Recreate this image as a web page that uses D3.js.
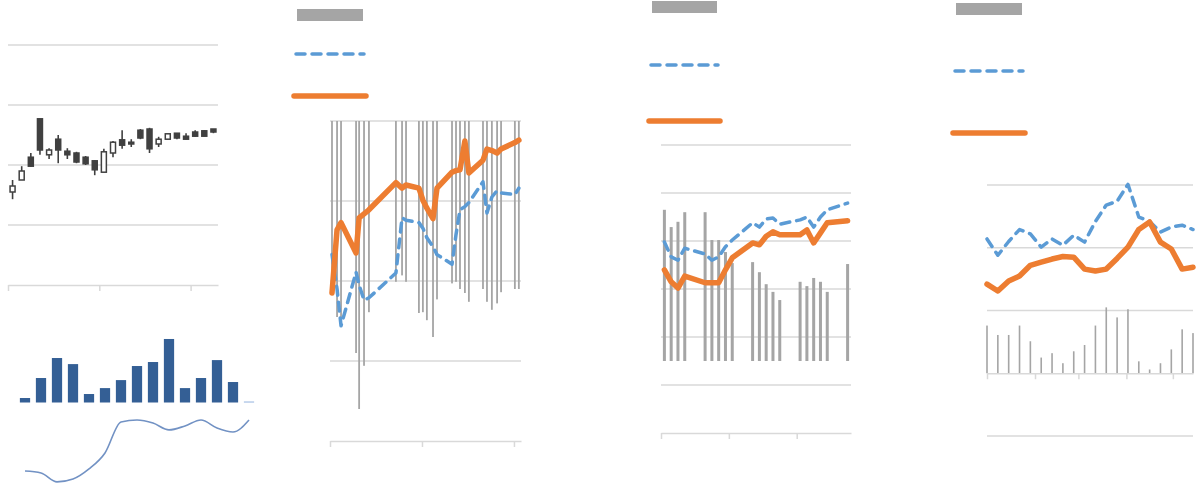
<!DOCTYPE html>
<html><head><meta charset="utf-8">
<script src="https://cdn.jsdelivr.net/npm/d3@7"></script>
<style>html,body{margin:0;padding:0;background:#fff;}svg{display:block;}</style>
</head><body>
<svg id="c" width="1199" height="486"></svg>
<script>
// ---------- Panel A (candlesticks) ----------
const candleOpen  = [1.55,1.75,2.13,2.77,2.17,2.43,2.23,2.20,2.13,2.07,1.88,2.20,2.42,2.38,2.58,2.60,2.35,2.43,2.53,2.48,2.55,2.57,2.60];
const candleClose = [1.65,1.90,1.98,2.25,2.25,2.25,2.17,2.05,2.02,1.92,2.22,2.38,2.33,2.35,2.45,2.27,2.43,2.52,2.45,2.43,2.48,2.48,2.55];
const candleHigh  = [1.75,1.98,2.20,2.77,2.28,2.50,2.28,2.22,2.15,2.08,2.27,2.40,2.58,2.43,2.60,2.62,2.47,2.52,2.53,2.53,2.58,2.58,2.60];
const candleLow   = [1.43,1.75,1.97,2.17,2.10,2.03,2.10,2.03,2.00,1.83,1.88,2.13,2.27,2.30,2.43,2.20,2.30,2.43,2.43,2.43,2.47,2.48,2.53];
const candleTicks = [0,10,20];
const candleGrid  = [1,2,3,4];

// ---------- Panel A (bottom bars + line) ----------
const volumeBars = [0.28,1.53,2.78,2.40,0.53,0.90,1.40,2.28,2.53,3.97,0.90,1.53,2.65,1.28,0.06];
const volumeLine = [0.81,0.69,0.13,0.31,0.94,1.94,3.88,4.00,3.81,3.38,3.63,4.00,3.50,3.25,4.00];

// ---------- Panel B ----------
const bDays   = [0.65,2.3,3.6,8.5,9.5,11.1,12.7,21.5,23.5,24.8,29.0,30.3,31.6,33.6,34.9,39.8,41.1,42.4,44.0,45.3,49.9,51.2,52.8,54.5,55.8,60.3,61.6];
const bOrange = [1.85,2.64,2.73,2.35,2.79,2.84,2.89,3.23,3.16,3.20,3.16,3.01,2.91,2.78,3.16,3.36,3.38,3.39,3.75,3.35,3.51,3.65,3.63,3.60,3.65,3.73,3.76];
const bBlue   = [2.33,1.90,1.44,2.11,1.95,1.76,1.79,2.10,2.79,2.76,2.73,2.66,2.54,2.43,2.33,2.21,2.58,2.89,2.93,2.98,3.24,2.85,3.05,3.13,3.10,3.08,3.16];
const bBars   = [2.11,2.45,2.49,2.90,3.60,3.06,2.39,2.01,1.93,2.01,2.40,2.39,2.49,2.70,2.23,2.03,2.01,2.10,2.15,2.26,2.10,2.26,2.36,2.28,2.14,2.10,2.10];
const bTicks  = [0,30,60];
const bGrid   = [1,2,3,4];

// ---------- Panel C ----------
const cDays   = [0.5,1.5,2.5,3.5,6.5,7.5,8.5,9.5,10.5,13.5,14.5,15.5,16.5,17.5,20.5,21.5,22.5,23.5,24.5,27.5];
const cOrange = [3.40,3.15,3.02,3.27,3.13,3.13,3.13,3.40,3.65,3.96,3.92,4.10,4.19,4.13,4.13,4.23,3.96,4.17,4.38,4.42];
const cBlue   = [3.98,3.67,3.60,3.85,3.73,3.60,3.67,3.88,4.02,4.38,4.29,4.46,4.48,4.35,4.44,4.50,4.29,4.50,4.65,4.79];
const cBars   = [3.15,2.79,2.90,3.10,3.10,2.52,2.52,2.27,2.04,2.06,1.85,1.60,1.44,1.27,1.65,1.56,1.73,1.65,1.44,2.02];
const cTicks  = [0,10,20];
const cGrid   = [1,2,3,4,5,6];

// ---------- Panel D ----------
const dDates  = ["2023-01-01","2023-01-08","2023-01-15","2023-01-22","2023-01-29","2023-02-05","2023-02-12","2023-02-19","2023-02-26","2023-03-05","2023-03-12","2023-03-19","2023-03-26","2023-04-02","2023-04-09","2023-04-16","2023-04-23","2023-04-30","2023-05-07","2023-05-14"];
const dOrange = [1.42,1.31,1.47,1.55,1.72,1.77,1.82,1.86,1.85,1.66,1.63,1.66,1.83,2.01,2.29,2.41,2.09,1.98,1.66,1.69];
const dBlue   = [2.14,1.88,2.10,2.29,2.22,2.01,2.14,2.04,2.20,2.09,2.42,2.68,2.74,3.01,2.49,2.42,2.25,2.33,2.36,2.29];
const dBars   = [0.76,0.61,0.61,0.76,0.51,0.25,0.32,0.16,0.35,0.45,0.76,1.05,0.89,1.02,0.19,0.06,0.16,0.38,0.70,0.64];
const dGrid   = [-1,1,2,3];

const GRID = "#d9d9d9", GRAY = "#a5a5a5", ORANGE = "#ed7d31", BLUE = "#5b9bd5", DARK = "#404040";
const svg = d3.select("#c");

function gridlines(g, y, vals, x0, x1) {
  g.selectAll(null).data(vals).join("line")
    .attr("x1", x0).attr("x2", x1).attr("y1", d => y(d)).attr("y2", d => y(d))
    .attr("stroke", GRID).attr("stroke-width", 1.5);
}
function xAxis(g, x, ticks, yPos) {
  const a = g.append("g").attr("transform", `translate(0,${yPos})`)
    .call(d3.axisBottom(x).tickValues(ticks).tickSize(6).tickSizeOuter(0).tickFormat(""));
  a.select(".domain").attr("stroke", GRID).attr("stroke-width", 1.5);
  a.selectAll(".tick line").attr("stroke", GRID).attr("stroke-width", 1.5);
}
function legend(g, x0, x1, yRect, yDash, yLine) {
  g.append("rect").attr("x", x0 + 3).attr("y", yRect).attr("width", x1 - x0 - 6).attr("height", 12).attr("fill", GRAY);
  g.append("line").attr("x1", x0 + 2).attr("x2", x1 - 2).attr("y1", yDash).attr("y2", yDash)
    .attr("stroke", BLUE).attr("stroke-width", 3.5).attr("stroke-dasharray", "9,7").attr("stroke-linecap", "round");
  g.append("line").attr("x1", x0).attr("x2", x1).attr("y1", yLine).attr("y2", yLine)
    .attr("stroke", ORANGE).attr("stroke-width", 5.5).attr("stroke-linecap", "round");
}
function drawLines(g, x, y, xs, blue, orange) {
  const line = d3.line().x((d, i) => x(xs[i])).y(d => y(d));
  g.append("path").attr("d", line(blue)).attr("fill", "none").attr("stroke", BLUE)
    .attr("stroke-width", 3.5).attr("stroke-dasharray", "9,7").attr("stroke-linecap", "round").attr("stroke-linejoin", "round");
  g.append("path").attr("d", line(orange)).attr("fill", "none").attr("stroke", ORANGE)
    .attr("stroke-width", 5.5).attr("stroke-linecap", "round").attr("stroke-linejoin", "round");
}

// ===== Panel A top =====
{
  const g = svg.append("g");
  const x = d3.scaleLinear().domain([0, 23]).range([8, 218]);
  const y = d3.scaleLinear().domain([0, 4]).range([285, 45]);
  gridlines(g, y, candleGrid, 8, 218);
  xAxis(g, x, candleTicks, 285);
  const idx = d3.range(candleOpen.length);
  const bw = 5;
  g.selectAll(null).data(idx).join("line")
    .attr("x1", i => x(i + 0.5)).attr("x2", i => x(i + 0.5))
    .attr("y1", i => y(candleHigh[i])).attr("y2", i => y(candleLow[i]))
    .attr("stroke", DARK).attr("stroke-width", 1.6);
  g.selectAll(null).data(idx).join("rect")
    .attr("x", i => x(i + 0.5) - bw / 2)
    .attr("y", i => y(Math.max(candleOpen[i], candleClose[i])))
    .attr("width", bw)
    .attr("height", i => Math.max(1.5, Math.abs(y(candleOpen[i]) - y(candleClose[i]))))
    .attr("fill", i => candleClose[i] > candleOpen[i] ? "#fff" : DARK)
    .attr("stroke", DARK).attr("stroke-width", 1.5);
}
// ===== Panel A bottom =====
{
  const g = svg.append("g");
  const x = d3.scaleBand().domain(d3.range(volumeBars.length)).range([17, 257]).paddingInner(0.36).paddingOuter(0.18);
  const yb = d3.scaleLinear().domain([0, 4]).range([402.5, 338.5]);
  const yl = d3.scaleLinear().domain([0, 4]).range([484, 420]);
  g.selectAll(null).data(volumeBars).join("rect")
    .attr("x", (d, i) => x(i)).attr("width", x.bandwidth())
    .attr("y", d => yb(d)).attr("height", d => yb(0) - yb(d))
    .attr("fill", (d, i) => i === volumeBars.length - 1 ? "#8fb0dd" : "#345f95");
  const line = d3.line().x((d, i) => x(i) + x.bandwidth() / 2).y(d => yl(d)).curve(d3.curveMonotoneX);
  g.append("path").attr("d", line(volumeLine)).attr("fill", "none")
    .attr("stroke", "#7292c4").attr("stroke-width", 1.6);
}
// ===== Panel B =====
{
  const g = svg.append("g");
  const x = d3.scaleLinear().domain([0, 62.3]).range([330, 521]);
  const y = d3.scaleLinear().domain([0, 4]).range([441, 121]);
  const y2 = d3.scaleLinear().domain([0, 4]).range([121, 441]);
  gridlines(g, y, bGrid, 330, 521);
  g.selectAll(null).data(bBars).join("rect")
    .attr("x", (d, i) => x(bDays[i]) - 0.9).attr("width", 1.8)
    .attr("y", y2(0)).attr("height", d => y2(d) - y2(0)).attr("fill", GRAY);
  xAxis(g, x, bTicks, 441);
  drawLines(g, x, y, bDays, bBlue, bOrange);
  legend(g, 294, 366, 9, 54, 96);
}
// ===== Panel C =====
{
  const g = svg.append("g");
  const x = d3.scaleLinear().domain([0, 28]).range([661, 851]);
  const y = d3.scaleLinear().domain([0, 6]).range([433, 145]);
  const y2 = d3.scaleLinear().domain([0, 6]).range([361, 73]);
  gridlines(g, y, cGrid, 661, 851);
  g.selectAll(null).data(cBars).join("rect")
    .attr("x", (d, i) => x(cDays[i]) - 1.5).attr("width", 3)
    .attr("y", d => y2(d)).attr("height", d => y2(0) - y2(d)).attr("fill", GRAY);
  xAxis(g, x, cTicks, 433);
  drawLines(g, x, y, cDays, cBlue, cOrange);
  legend(g, 649, 720, 1, 65, 121);
}
// ===== Panel D =====
{
  const g = svg.append("g");
  const parse = d3.utcParse("%Y-%m-%d");
  const dates = dDates.map(parse);
  const x = d3.scaleUtc().domain([dates[0], dates[dates.length - 1]]).range([987, 1193]);
  const y = d3.scaleLinear().domain([-1, 3]).range([436, 185]);
  gridlines(g, y, dGrid, 987, 1193);
  g.selectAll(null).data(dBars).join("rect")
    .attr("x", (d, i) => x(dates[i]) - 0.8).attr("width", 1.6)
    .attr("y", d => y(d)).attr("height", d => y(0) - y(d)).attr("fill", GRAY);
  xAxis(g, x, d3.utcMonth.range(dates[0], dates[dates.length - 1]), y(0));
  drawLines(g, x, y, dates, dBlue, dOrange);
  legend(g, 953, 1025, 3, 71, 133);
}
</script>
</body></html>
